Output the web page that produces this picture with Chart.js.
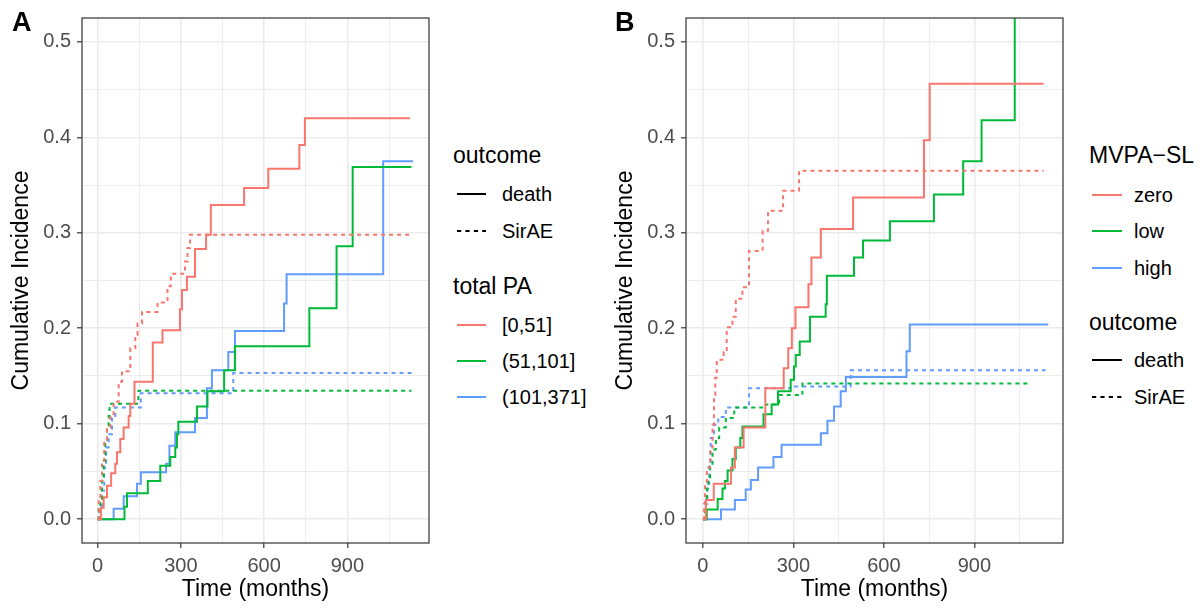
<!DOCTYPE html>
<html>
<head>
<meta charset="utf-8">
<script src="https://cdn.jsdelivr.net/npm/chart.js@4.4.0/dist/chart.umd.min.js"></script>
<style>
  body { margin: 0; background: #fff; width: 1203px; height: 608px; position: relative; overflow: hidden;
         font-family: "Liberation Sans", Arial, Helvetica, sans-serif; }
  canvas { position: absolute; top: 0; }
  .tag { position: absolute; font-weight: bold; font-size: 27px; line-height: 27px; }
  .lg { position: absolute; white-space: nowrap; color: #000; }
  .lg svg { position: absolute; }
</style>
</head>
<body>
<canvas id="panelA" width="431" height="608" style="left:0px"></canvas>
<canvas id="panelB" width="461" height="608" style="left:604px"></canvas>
<div class="tag" style="left:12px;top:9px">A</div>
<div class="tag" style="left:615px;top:9px">B</div>
<div id="legendA"></div>
<div id="legendB"></div>
<script>
// categories
const paGroups = ['[0,51]', '(51,101]', '(101,371]'];
const mvpaGroups = ['zero', 'low', 'high'];
const outcomes = ['death', 'SirAE'];
const groupColors = ['#F8766D', '#00BA38', '#619CFF'];

// axes
const xTickValues = [0, 150, 300, 450, 600, 750, 900, 1050];
const yTickValues = [0, 0.05, 0.1, 0.15, 0.2, 0.25, 0.3, 0.35, 0.4, 0.45, 0.5];

// panel A: total PA, time (months) and cumulative incidence
const aG1DeathT = [0, 12, 22, 34, 49, 64, 70, 82, 94, 112, 118, 133, 199, 234, 297, 304, 322, 351, 391, 408, 528, 615, 727, 747, 1125];
const aG1DeathV = [0, 0.012, 0.023, 0.035, 0.048, 0.058, 0.07, 0.084, 0.096, 0.108, 0.121, 0.144, 0.185, 0.198, 0.22, 0.24, 0.254, 0.283, 0.298, 0.329, 0.347, 0.367, 0.392, 0.42, 0.42];
const aG1SaeT = [0, 4, 10, 16, 24, 34, 46, 58, 76, 88, 118, 136, 144, 160, 216, 252, 264, 315, 324, 333, 1125];
const aG1SaeV = [0, 0.02, 0.04, 0.061, 0.082, 0.096, 0.11, 0.123, 0.144, 0.155, 0.179, 0.193, 0.205, 0.217, 0.227, 0.244, 0.257, 0.27, 0.284, 0.298, 0.298];
const aG2DeathT = [0, 97, 106, 181, 226, 262, 280, 286, 291, 358, 396, 456, 495, 763, 861, 919, 1131];
const aG2DeathV = [0, 0.013, 0.027, 0.04, 0.056, 0.065, 0.075, 0.089, 0.102, 0.118, 0.134, 0.156, 0.181, 0.221, 0.286, 0.369, 0.369];
const aG2SaeT = [0, 4, 10, 16, 22, 28, 34, 40, 43, 147, 1131];
const aG2SaeV = [0, 0.01, 0.02, 0.04, 0.061, 0.082, 0.096, 0.108, 0.121, 0.1345, 0.1345];
const aG3DeathT = [0, 58, 94, 142, 156, 247, 259, 280, 351, 394, 412, 471, 495, 672, 681, 1029, 1137];
const aG3DeathV = [0, 0.011, 0.024, 0.037, 0.049, 0.058, 0.077, 0.091, 0.106, 0.137, 0.156, 0.175, 0.197, 0.226, 0.2565, 0.375, 0.375];
const aG3SaeT = [0, 7, 16, 24, 31, 40, 52, 64, 156, 489, 1137];
const aG3SaeV = [0, 0.013, 0.03, 0.054, 0.075, 0.089, 0.106, 0.117, 0.132, 0.153, 0.153];

// panel B: MVPA-SL
const bZeroDeathT = [0, 10, 36, 93, 106, 135, 207, 268, 283, 295, 307, 350, 360, 391, 498, 733, 752, 1130];
const bZeroDeathV = [0, 0.02, 0.037, 0.054, 0.075, 0.096, 0.137, 0.158, 0.179, 0.2, 0.222, 0.246, 0.274, 0.304, 0.337, 0.397, 0.456, 0.456];
const bZeroSaeT = [0, 4, 7, 13, 24, 32, 37, 41, 46, 69, 79, 98, 109, 131, 153, 198, 216, 266, 319, 1130];
const bZeroSaeV = [0, 0.016, 0.037, 0.054, 0.075, 0.099, 0.13, 0.148, 0.167, 0.175, 0.201, 0.212, 0.231, 0.243, 0.281, 0.302, 0.323, 0.344, 0.365, 0.365];
const bLowDeathT = [0, 13, 49, 65, 73, 82, 98, 109, 124, 131, 201, 228, 249, 291, 302, 308, 321, 355, 407, 411, 501, 531, 620, 766, 863, 924, 1034, 1130];
const bLowDeathV = [0, 0.01, 0.021, 0.032, 0.04, 0.051, 0.063, 0.075, 0.085, 0.097, 0.11, 0.12, 0.134, 0.146, 0.16, 0.172, 0.186, 0.212, 0.225, 0.255, 0.274, 0.292, 0.312, 0.34, 0.375, 0.418, 0.62, 0.62];
const bLowSaeT = [0, 7, 10, 13, 18, 24, 32, 43, 54, 76, 104, 208, 253, 330, 1086];
const bLowSaeV = [0, 0.009, 0.021, 0.032, 0.044, 0.058, 0.073, 0.085, 0.096, 0.106, 0.117, 0.12, 0.13, 0.142, 0.142];
const bHighDeathT = [0, 60, 106, 142, 159, 183, 234, 261, 391, 413, 435, 457, 474, 675, 686, 1145];
const bHighDeathV = [0, 0.01, 0.02, 0.031, 0.041, 0.054, 0.065, 0.078, 0.09, 0.103, 0.118, 0.134, 0.149, 0.176, 0.204, 0.204];
const bHighSaeT = [0, 10, 15, 21, 26, 37, 51, 76, 153, 291, 490, 1136];
const bHighSaeV = [0, 0.016, 0.037, 0.058, 0.085, 0.099, 0.107, 0.117, 0.137, 0.139, 0.156, 0.156];

const FONT = '"Liberation Sans", Arial, Helvetica, sans-serif';
const DASH = [4, 4];

function stepLine(t, v, color, dashed) {
  return {
    data: t.map((x, i) => ({ x, y: v[i] })),
    borderColor: color,
    borderWidth: 2,
    borderDash: dashed ? DASH : [],
    stepped: true,
    pointRadius: 0,
    fill: false,
  };
}

const isMajor = (v, step) => Math.abs(v / step - Math.round(v / step)) < 1e-6;

// panel frame drawn over the lines, like ggplot's panel.border
const panelBorder = {
  id: 'panelBorder',
  afterDatasetsDraw(chart) {
    const { ctx, chartArea: a } = chart;
    ctx.save();
    ctx.strokeStyle = '#333333';
    ctx.lineWidth = 1.2;
    ctx.strokeRect(a.left, a.top, a.right - a.left, a.bottom - a.top);
    ctx.restore();
  },
};

function makePanel(id, datasets) {
  return new Chart(document.getElementById(id), {
    type: 'line',
    data: { datasets },
    options: {
      responsive: false,
      animation: false,
      devicePixelRatio: 1,
      layout: { padding: { top: 13, right: 2, left: 0, bottom: 0 } },
      plugins: { legend: { display: false }, tooltip: { enabled: false } },
      scales: {
        x: {
          type: 'linear',
          min: -56,
          max: 1194,
          afterBuildTicks: (s) => { s.ticks = xTickValues.map((value) => ({ value })); },
          afterFit: (s) => { s.height = 65; },
          ticks: {
            autoSkip: false,
            maxRotation: 0,
            padding: 6,
            color: '#4D4D4D',
            font: { size: 20, family: FONT },
            callback: (v) => (isMajor(v, 300) ? String(v) : ''),
          },
          grid: {
            color: '#EBEBEB',
            lineWidth: (c) => (c.tick && isMajor(c.tick.value, 300) ? 1.6 : 0.9),
            tickLength: 5,
            tickColor: (c) => (c.tick && isMajor(c.tick.value, 300) ? '#333333' : 'rgba(0,0,0,0)'),
            tickWidth: 1.2,
          },
          border: { display: false },
          title: {
            display: true,
            text: 'Time (months)',
            color: '#000',
            font: { size: 23, family: FONT },
            padding: { top: 0, bottom: 5 },
          },
        },
        y: {
          type: 'linear',
          min: -0.025,
          max: 0.525,
          afterBuildTicks: (s) => { s.ticks = yTickValues.map((value) => ({ value })); },
          afterFit: (s) => { s.width = 82; },
          ticks: {
            autoSkip: false,
            padding: 6,
            color: '#4D4D4D',
            font: { size: 20, family: FONT },
            callback: (v) => (isMajor(v, 0.1) ? v.toFixed(1) : ''),
          },
          grid: {
            color: '#EBEBEB',
            lineWidth: (c) => (c.tick && isMajor(c.tick.value, 0.1) ? 1.6 : 0.9),
            tickLength: 5,
            tickColor: (c) => (c.tick && isMajor(c.tick.value, 0.1) ? '#333333' : 'rgba(0,0,0,0)'),
            tickWidth: 1.2,
          },
          border: { display: false },
          title: {
            display: true,
            text: 'Cumulative Incidence',
            color: '#000',
            font: { size: 23, family: FONT },
            padding: { top: 8, bottom: 0 },
          },
        },
      },
    },
    plugins: [panelBorder],
  });
}

makePanel('panelA', [
  stepLine(aG1DeathT, aG1DeathV, groupColors[0], false),
  stepLine(aG1SaeT, aG1SaeV, groupColors[0], true),
  stepLine(aG2DeathT, aG2DeathV, groupColors[1], false),
  stepLine(aG2SaeT, aG2SaeV, groupColors[1], true),
  stepLine(aG3DeathT, aG3DeathV, groupColors[2], false),
  stepLine(aG3SaeT, aG3SaeV, groupColors[2], true),
]);

makePanel('panelB', [
  stepLine(bZeroDeathT, bZeroDeathV, groupColors[0], false),
  stepLine(bZeroSaeT, bZeroSaeV, groupColors[0], true),
  stepLine(bLowDeathT, bLowDeathV, groupColors[1], false),
  stepLine(bLowSaeT, bLowSaeV, groupColors[1], true),
  stepLine(bHighDeathT, bHighDeathV, groupColors[2], false),
  stepLine(bHighSaeT, bHighSaeV, groupColors[2], true),
]);

// legends (html text + small svg keys)
function addText(parent, text, left, centerY, size) {
  const d = document.createElement('div');
  d.className = 'lg';
  d.textContent = text;
  d.style.left = left + 'px';
  d.style.top = (centerY - size / 2) + 'px';
  d.style.fontSize = size + 'px';
  d.style.lineHeight = size + 'px';
  parent.appendChild(d);
}

function addKey(parent, left, centerY, width, color, dashed) {
  const ns = 'http://www.w3.org/2000/svg';
  const svg = document.createElementNS(ns, 'svg');
  svg.setAttribute('width', width);
  svg.setAttribute('height', 6);
  svg.style.position = 'absolute';
  svg.style.left = left + 'px';
  svg.style.top = (centerY - 3) + 'px';
  const ln = document.createElementNS(ns, 'line');
  ln.setAttribute('x1', 0); ln.setAttribute('x2', width);
  ln.setAttribute('y1', 3); ln.setAttribute('y2', 3);
  ln.setAttribute('stroke', color);
  ln.setAttribute('stroke-width', 2);
  if (dashed) ln.setAttribute('stroke-dasharray', '4.2 4.2');
  svg.appendChild(ln);
  parent.appendChild(svg);
}

function buildLegend(id, blocks, titleX, keyX, keyW, textX) {
  const root = document.getElementById(id);
  blocks.forEach((b) => {
    addText(root, b.title, titleX, b.titleY, 23);
    b.items.forEach((it, i) => {
      addKey(root, keyX, b.itemY[i], keyW, it.color, it.dashed);
      addText(root, it.label, textX, b.itemY[i], 20);
    });
  });
}

const outcomeItems = outcomes.map((o, i) => ({ label: o, color: '#000', dashed: i === 1 }));

buildLegend('legendA', [
  { title: 'outcome', titleY: 155, items: outcomeItems, itemY: [194, 231] },
  { title: 'total PA', titleY: 286,
    items: paGroups.map((g, i) => ({ label: g, color: groupColors[i], dashed: false })),
    itemY: [325, 361, 397] },
], 453, 457, 29, 502);

buildLegend('legendB', [
  { title: 'MVPA\u2212SL', titleY: 155,
    items: mvpaGroups.map((g, i) => ({ label: g, color: groupColors[i], dashed: false })),
    itemY: [195, 231, 268] },
  { title: 'outcome', titleY: 322, items: outcomeItems, itemY: [360, 397] },
], 1089, 1092, 30, 1134);
</script>
</body>
</html>
